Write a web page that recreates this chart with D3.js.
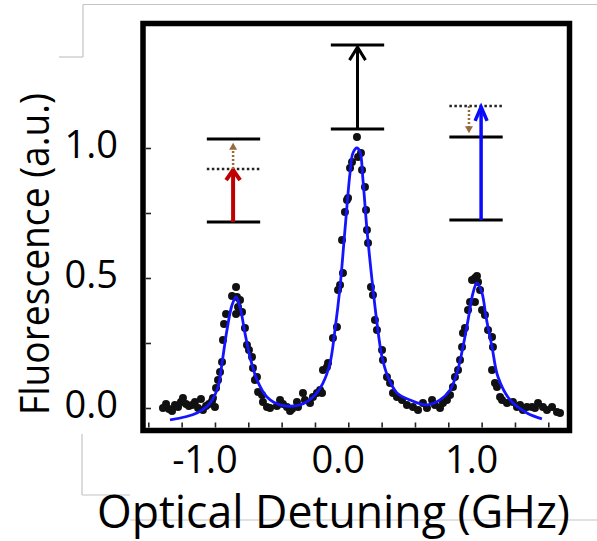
<!DOCTYPE html>
<html>
<head>
<meta charset="utf-8">
<script src="https://cdn.jsdelivr.net/npm/d3@7"></script>
<style>
  body { margin: 0; background: #fff; }
  text { font-family: "Open Sans", sans-serif; fill: #000; }
</style>
</head>
<body>
<div id="container"></div>
<script>
// measured points (detuning in GHz, fluorescence in a.u.)
let dotX = [
  -1.390, -1.367, -1.345, -1.322, -1.300, -1.277, -1.255, -1.240, -1.217, -1.195,
  -1.172, -1.150, -1.127, -1.105, -1.090, -1.067, -1.045, -1.022, -1.000,
  -1.015, -0.992, -0.977, -0.962, -0.947, -0.940, -0.932, -0.917, -0.872, -0.842,
  -0.835, -0.827, -0.812, -0.842, -0.797, -0.775, -0.760, -0.745, -0.722, -0.715,
  -0.685, -0.700, -0.677, -0.647, -0.640, -0.610, -0.587, -0.535,
  -0.512, -0.490, -0.460, -0.437, -0.422, -0.385, -0.377, -0.340, -0.325, -0.287,
  -0.265, -0.235, -0.212, -0.197,
  -0.190, -0.160, -0.152, -0.115, -0.085, -0.077, -0.062, -0.040, -0.047, -0.025,
  -0.010, -0.002, 0.013, 0.028, 0.065, 0.073, 0.095, 0.103, 0.125, 0.133,
  0.140, 0.148, 0.170, 0.185, 0.200, 0.215, 0.253, 0.260, 0.290, 0.313,
  0.335, 0.365, 0.403, 0.440,
  0.485, 0.523, 0.560, 0.590, 0.628, 0.650, 0.688, 0.710, 0.740, 0.763,
  0.785, 0.800, 0.823, 0.838, 0.853, 0.860, 0.875, 0.898, 0.913, 0.928,
  0.950, 0.965, 0.973, 0.950, 0.988, 1.003, 1.025, 1.048, 1.078, 1.085,
  1.078, 1.100, 1.115, 1.138, 1.153,
  1.190, 1.235, 1.265, 1.288, 1.310, 1.340, 1.378, 1.400, 1.423, 1.460,
  1.490, 1.528, 1.565, 1.588
];
let dotY = [
  0.000, 0.015, -0.004, -0.012, 0.012, 0.004, 0.023, 0.038, 0.015, 0.008,
  0.012, 0.023, 0.000, 0.035, -0.008, 0.008, 0.015, 0.027, 0.004,
  0.038, 0.077, 0.108, 0.138, 0.177, 0.262, 0.323, 0.362, 0.431, 0.465,
  0.427, 0.388, 0.415, 0.362, 0.369, 0.308, 0.242, 0.223, 0.196, 0.154,
  0.119, 0.108, 0.062, 0.050, 0.023, 0.004, 0.000, 0.008,
  0.031, 0.015, 0.004, -0.012, -0.004, 0.023, 0.004, 0.058, 0.031, 0.019,
  0.042, 0.058, 0.069, 0.058,
  0.146, 0.158, 0.173, 0.269, 0.312, 0.454, 0.473, 0.519, 0.646, 0.754,
  0.800, 0.808, 0.923, 0.946, 1.042, 0.965, 0.981, 0.915, 0.850, 0.762,
  0.685, 0.635, 0.465, 0.435, 0.338, 0.300, 0.223, 0.185, 0.119, 0.096,
  0.058, 0.042, 0.031, 0.012,
  0.004, -0.008, 0.019, 0.000, 0.031, 0.012, 0.000, 0.019, 0.031, 0.050,
  0.081, 0.119, 0.146, 0.185, 0.235, 0.288, 0.308, 0.377, 0.408, 0.492,
  0.500, 0.508, 0.485, 0.408, 0.454, 0.377, 0.358, 0.300, 0.273, 0.235,
  0.146, 0.096, 0.081, 0.042, 0.031,
  0.019, 0.023, 0.004, 0.012, -0.008, 0.004, 0.004, 0.000, 0.019, 0.004,
  -0.008, 0.004, -0.015, -0.019
];

// fitted curve
let fitX = [
  -1.337, -1.135, -1.037, -0.977, -0.947, -0.910, -0.872, -0.842, -0.812, -0.775,
  -0.737, -0.685, -0.610, -0.512, -0.362, -0.265, -0.190, -0.137, -0.100, -0.062,
  -0.025, 0.013, 0.035, 0.065, 0.088, 0.110, 0.140, 0.178, 0.215, 0.253,
  0.298, 0.365, 0.463, 0.590, 0.688, 0.763, 0.815, 0.860, 0.898, 0.935,
  0.965, 1.003, 1.033, 1.078, 1.123, 1.213, 1.340, 1.452
];
let fitY = [
  -0.046, -0.019, 0.019, 0.081, 0.173, 0.300, 0.396, 0.427, 0.388, 0.288,
  0.196, 0.108, 0.042, 0.012, 0.012, 0.042, 0.096, 0.173, 0.300, 0.465,
  0.685, 0.904, 0.981, 1.000, 0.985, 0.877, 0.685, 0.492, 0.327, 0.196,
  0.119, 0.058, 0.031, 0.012, 0.031, 0.069, 0.135, 0.235, 0.338, 0.442,
  0.481, 0.442, 0.350, 0.235, 0.119, 0.031, -0.019, -0.042
];

let xTicks = d3.range(-1.5, 1.51, 0.25);
let xLabels = [-1, 0, 1];
let yTicks = [0, 0.25, 0.5, 0.75, 1];
let yLabels = [0, 0.5, 1];

// energy level sketches: centre (GHz), levels (a.u.)
let sketchX = [-0.861, 0.069, 0.958];
let sketchGround = [0.715, 1.073, 0.723];
let sketchUpper = [1.035, 1.396, 1.042];
let sketchVirtual = [0.919, null, 1.162];

let width = 597;
let height = 541;
let frame = { left: 143, right: 569.5, top: 23.5, bottom: 430.5 };

let svg = d3.create('svg').attr('width', width).attr('height', height);

let x = d3.scaleLinear().domain([-1.5, 1.5]).range([148.3, 548.3]);
let y = d3.scaleLinear().domain([0, 1]).range([408, 148]);

// faint page edges from the source slide
let grey = '#c4c4c4';
let edges = [
  [[83, 4.5], [597, 4.5]],
  [[83, 4.5], [83, 57]],
  [[59, 57], [83, 57]],
  [[82, 434], [82, 495]],
  [[82, 495], [130, 495]],
  [[130, 520], [597, 520]]
];
svg.selectAll('.edge').data(edges).enter().append('path')
  .attr('d', d => d3.line()(d))
  .attr('stroke', grey).attr('stroke-width', 1.2).attr('fill', 'none');

// data
svg.append('g').selectAll('circle')
  .data(dotX)
  .enter().append('circle')
  .attr('cx', d => x(d))
  .attr('cy', (d, i) => y(dotY[i]))
  .attr('r', 4)
  .attr('fill', '#111');

let line = d3.line()
  .x(d => x(d))
  .y((d, i) => y(fitY[i]))
  .curve(d3.curveCatmullRom.alpha(0.5));

svg.append('path')
  .attr('d', line(fitX))
  .attr('fill', 'none')
  .attr('stroke', '#1414ff')
  .attr('stroke-width', 2.8);

// axes
let xAxis = svg.append('g')
  .attr('transform', `translate(0,${frame.bottom - 3})`)
  .call(d3.axisBottom(x).tickValues(xTicks).tickSize(-5).tickFormat(''));
let yAxis = svg.append('g')
  .attr('transform', `translate(${frame.left + 3},0)`)
  .call(d3.axisLeft(y).tickValues(yTicks).tickSize(-5).tickFormat(''));
[xAxis, yAxis].forEach(a => {
  a.select('.domain').remove();
  a.selectAll('line').attr('stroke', '#222').attr('stroke-width', 1.6);
});

svg.selectAll('.xlab').data(xLabels).enter().append('text')
  .attr('x', d => x(d) - 10)
  .attr('y', 473)
  .attr('text-anchor', 'middle')
  .attr('font-size', 38)
  .text(d => d.toFixed(1));

svg.selectAll('.ylab').data(yLabels).enter().append('text')
  .attr('x', 118)
  .attr('y', d => y(d) + 10)
  .attr('text-anchor', 'end')
  .attr('font-size', 38)
  .text(d => d.toFixed(1));

// frame
svg.append('rect')
  .attr('x', frame.left).attr('y', frame.top)
  .attr('width', frame.right - frame.left)
  .attr('height', frame.bottom - frame.top)
  .attr('fill', 'none').attr('stroke', '#000').attr('stroke-width', 5.5);

// titles
svg.append('text')
  .attr('x', 97).attr('y', 528)
  .attr('font-size', 46)
  .attr('textLength', 473).attr('lengthAdjust', 'spacingAndGlyphs')
  .text('Optical Detuning (GHz)');

svg.append('text')
  .attr('transform', 'translate(49,415) rotate(-90)')
  .attr('font-size', 41)
  .attr('textLength', 322).attr('lengthAdjust', 'spacingAndGlyphs')
  .text('Fluorescence (a.u.)');

// energy level sketches
let halfW = 0.2;
let g = svg.append('g');
sketchX.forEach((cx, i) => {
  [sketchGround[i], sketchUpper[i]].forEach(lv => {
    g.append('line')
      .attr('x1', x(cx - halfW)).attr('x2', x(cx + halfW))
      .attr('y1', y(lv)).attr('y2', y(lv))
      .attr('stroke', '#000').attr('stroke-width', 3);
  });
  if (sketchVirtual[i] !== null) {
    g.append('line')
      .attr('x1', x(cx - halfW)).attr('x2', x(cx + halfW))
      .attr('y1', y(sketchVirtual[i])).attr('y2', y(sketchVirtual[i]))
      .attr('stroke', '#222').attr('stroke-width', 2.5)
      .attr('stroke-dasharray', '2.5,2.5');
  }
});

function arrow(ax, from, to, color, w, hw, hh) {
  let x0 = x(ax), y0 = y(from), y1 = y(to);
  g.append('line')
    .attr('x1', x0).attr('x2', x0).attr('y1', y0).attr('y2', y1 + 1)
    .attr('stroke', color).attr('stroke-width', w);
  g.append('path')
    .attr('d', d3.line()([[x0 - hw, y1 + hh], [x0, y1], [x0 + hw, y1 + hh]]))
    .attr('fill', 'none').attr('stroke', color).attr('stroke-width', w)
    .attr('stroke-linejoin', 'miter');
}
function dotted(ax, from, to, color) {
  let x0 = x(ax), y0 = y(from), y1 = y(to);
  let dir = y1 < y0 ? 1 : -1;
  g.append('line')
    .attr('x1', x0).attr('x2', x0).attr('y1', y0).attr('y2', y1 + dir * 5)
    .attr('stroke', color).attr('stroke-width', 2.5)
    .attr('stroke-dasharray', '2,2');
  g.append('path')
    .attr('d', d3.line()([[x0 - 4, y1 + dir * 7], [x0, y1], [x0 + 4, y1 + dir * 7]]) + 'Z')
    .attr('fill', color);
}

// red: ground -> virtual, then brown up to upper level
arrow(-0.864, sketchGround[0], sketchVirtual[0] - 0.004, '#c00000', 4, 7, 10);
dotted(-0.864, sketchVirtual[0], sketchUpper[0] - 0.015, '#9b6a3a');
// black: resonant
arrow(0.069, sketchGround[1], sketchUpper[1] - 0.008, '#000', 3, 8, 13);
// blue: ground -> virtual, brown down to upper level
arrow(0.996, sketchGround[2], sketchVirtual[2] - 0.004, '#0a0aff', 3.5, 6, 14);
dotted(0.905, sketchVirtual[2], sketchUpper[2] + 0.015, '#9b6a3a');

d3.select('#container').append(() => svg.node());
</script>
</body>
</html>
